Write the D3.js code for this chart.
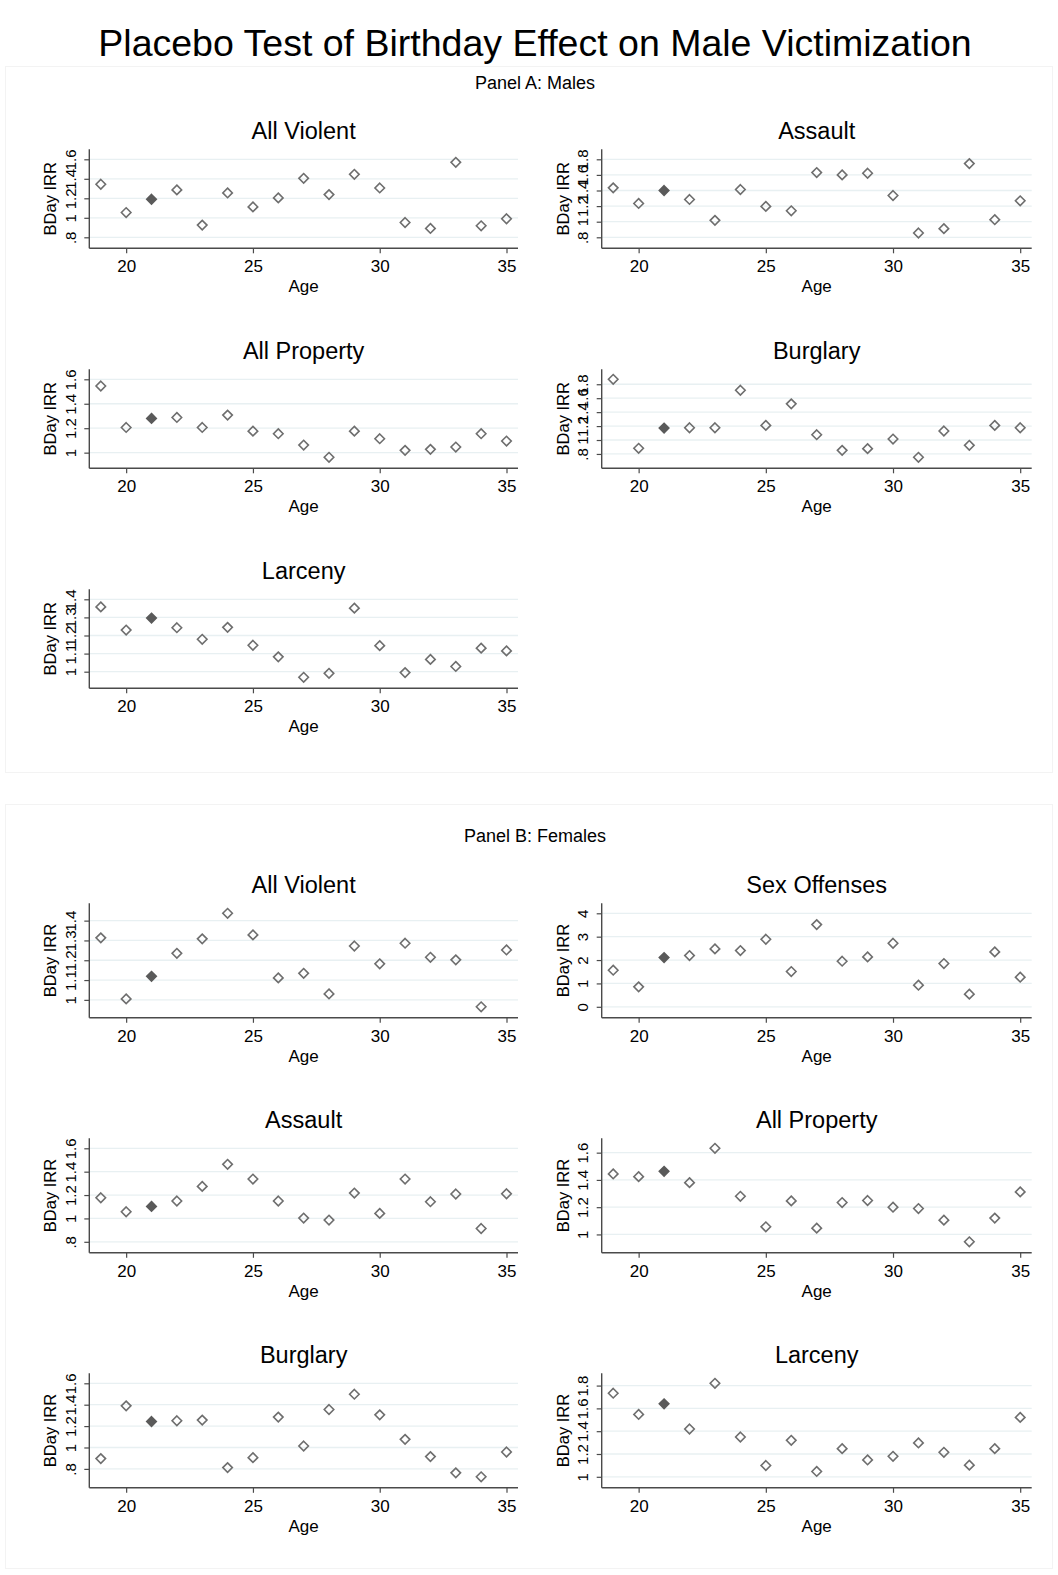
<!DOCTYPE html>
<html>
<head>
<meta charset="utf-8">
<script src="https://cdn.jsdelivr.net/npm/d3@7"></script>
<style>
  body { margin: 0; background: #fff; }
  text { font-family: "Liberation Sans", Arial, Helvetica, sans-serif; fill: #000; }
</style>
</head>
<body>
<svg id="chart"></svg>
<script>
// *** DATA ***
var ages = [19, 20, 21, 22, 23, 24, 25, 26, 27, 28, 29, 30, 31, 32, 33, 34, 35];
var highlightAge = 21;
var ageTicks = [20, 25, 30, 35];

// Panel A: males
var maleViolent  = [1.344, 1.054, 1.19, 1.286, 0.925, 1.255, 1.112, 1.204, 1.405, 1.238, 1.446, 1.306, 0.952, 0.891, 1.569, 0.918, 0.99];
var maleAssault  = [1.434, 1.234, 1.40, 1.285, 1.017, 1.413, 1.196, 1.140, 1.630, 1.600, 1.621, 1.336, 0.855, 0.911, 1.745, 1.026, 1.268];
var maleProperty = [1.545, 1.206, 1.28, 1.288, 1.206, 1.307, 1.176, 1.155, 1.062, 0.962, 1.176, 1.114, 1.019, 1.027, 1.046, 1.155, 1.095];
var maleBurglary = [1.871, 0.881, 1.171, 1.176, 1.176, 1.714, 1.210, 1.519, 1.076, 0.852, 0.876, 1.014, 0.752, 1.129, 0.924, 1.210, 1.176];
var maleLarceny  = [1.358, 1.230, 1.296, 1.243, 1.179, 1.245, 1.146, 1.082, 0.969, 0.991, 1.351, 1.144, 0.995, 1.068, 1.029, 1.130, 1.115];

// Panel B: females
var femaleViolent  = [1.313, 1.005, 1.119, 1.235, 1.308, 1.437, 1.328, 1.111, 1.134, 1.030, 1.272, 1.182, 1.286, 1.215, 1.202, 0.965, 1.252];
var femaleSex      = [1.566, 0.854, 2.107, 2.192, 2.477, 2.406, 2.890, 1.509, 3.516, 1.950, 2.135, 2.719, 0.925, 1.851, 0.541, 2.349, 1.267];
var femaleAssault  = [1.177, 1.057, 1.103, 1.149, 1.274, 1.463, 1.337, 1.149, 1.003, 0.986, 1.217, 1.043, 1.337, 1.143, 1.209, 0.914, 1.211];
var femaleProperty = [1.444, 1.424, 1.463, 1.380, 1.632, 1.280, 1.056, 1.246, 1.046, 1.234, 1.249, 1.200, 1.190, 1.105, 0.946, 1.120, 1.312];
var femaleBurglary = [0.896, 1.389, 1.243, 1.250, 1.256, 0.812, 0.905, 1.284, 1.014, 1.355, 1.498, 1.305, 1.076, 0.915, 0.763, 0.726, 0.958];
var femaleLarceny  = [1.733, 1.547, 1.640, 1.419, 1.820, 1.349, 1.099, 1.320, 1.047, 1.247, 1.148, 1.180, 1.297, 1.215, 1.102, 1.247, 1.521];

// y tick labels per panel
var ticksViolentM  = [0.8, 1, 1.2, 1.4, 1.6];
var ticksAssaultM  = [0.8, 1, 1.2, 1.4, 1.6, 1.8];
var ticksPropertyM = [1, 1.2, 1.4, 1.6];
var ticksBurglaryM = [0.8, 1, 1.2, 1.4, 1.6, 1.8];
var ticksLarcenyM  = [1, 1.1, 1.2, 1.3, 1.4];
var ticksViolentF  = [1, 1.1, 1.2, 1.3, 1.4];
var ticksSexF      = [0, 1, 2, 3, 4];
var ticksAssaultF  = [0.8, 1, 1.2, 1.4, 1.6];
var ticksPropertyF = [1, 1.2, 1.4, 1.6];
var ticksBurglaryF = [0.8, 1, 1.2, 1.4, 1.6];
var ticksLarcenyF  = [1, 1.2, 1.4, 1.6, 1.8];

// *** LAYOUT ***
var width = 1058;
var height = 1575;
var colLeft = [89.3, 601.7];
var colWidth = [428.7, 430];
var maleTops = [149.3, 369.3, 589.3];
var femaleTops = [903.3, 1138.3, 1373.3];
var maleH = 99;
var femaleH = 114.5;

var markerColor = "#6e6e6e";
var axisColor = "#4a4a4a";
var gridColor = "#e8f0f2";

var plots = [
  { title: "All Violent",  values: maleViolent,    ticks: ticksViolentM,  col: 0, top: maleTops[0], h: maleH },
  { title: "Assault",      values: maleAssault,    ticks: ticksAssaultM,  col: 1, top: maleTops[0], h: maleH },
  { title: "All Property", values: maleProperty,   ticks: ticksPropertyM, col: 0, top: maleTops[1], h: maleH },
  { title: "Burglary",     values: maleBurglary,   ticks: ticksBurglaryM, col: 1, top: maleTops[1], h: maleH },
  { title: "Larceny",      values: maleLarceny,    ticks: ticksLarcenyM,  col: 0, top: maleTops[2], h: maleH },
  { title: "All Violent",  values: femaleViolent,  ticks: ticksViolentF,  col: 0, top: femaleTops[0], h: femaleH },
  { title: "Sex Offenses", values: femaleSex,      ticks: ticksSexF,      col: 1, top: femaleTops[0], h: femaleH },
  { title: "Assault",      values: femaleAssault,  ticks: ticksAssaultF,  col: 0, top: femaleTops[1], h: femaleH },
  { title: "All Property", values: femaleProperty, ticks: ticksPropertyF, col: 1, top: femaleTops[1], h: femaleH },
  { title: "Burglary",     values: femaleBurglary, ticks: ticksBurglaryF, col: 0, top: femaleTops[2], h: femaleH },
  { title: "Larceny",      values: femaleLarceny,  ticks: ticksLarcenyF,  col: 1, top: femaleTops[2], h: femaleH }
];

// --- Helpers ---
function fmtTick(v) {
  // Stata style: drop leading zero (.8)
  var s = String(v);
  if (s.indexOf("0.") == 0) { s = s.substring(1); }
  return s;
}

var svg = d3.select("#chart")
  .attr("width", width)
  .attr("height", height);

// panel boxes (faint outlines)
svg.append("rect")
  .attr("x", 5.5).attr("y", 66.5).attr("width", 1047).attr("height", 706)
  .attr("fill", "none").attr("stroke", "#f3f3f3");
svg.append("rect")
  .attr("x", 5.5).attr("y", 804.5).attr("width", 1047).attr("height", 764)
  .attr("fill", "none").attr("stroke", "#f3f3f3");

// titles
svg.append("text")
  .attr("x", 535).attr("y", 56)
  .attr("text-anchor", "middle")
  .style("font-size", "37.5px")
  .text("Placebo Test of Birthday Effect on Male Victimization");
svg.append("text")
  .attr("x", 535).attr("y", 89)
  .attr("text-anchor", "middle")
  .style("font-size", "18px")
  .text("Panel A: Males");
svg.append("text")
  .attr("x", 535).attr("y", 842)
  .attr("text-anchor", "middle")
  .style("font-size", "18px")
  .text("Panel B: Females");

// --- Action ---
function drawPlot(p) {
  var left = colLeft[p.col];
  var right = left + colWidth[p.col];
  var top = p.top;
  var bottom = p.top + p.h;
  var g = svg.append("g").attr("class", "plot");

  var x = d3.scaleLinear()
    .domain(d3.extent(ages))
    .range([left + 11.5, right - 11.5]);
  var y = d3.scaleLinear()
    .domain(d3.extent(p.values.concat(p.ticks)))
    .range([bottom - 11, top + 10]);

  // gridlines
  g.selectAll("line.grid")
    .data(p.ticks)
    .enter()
      .append("line")
      .attr("class", "grid")
      .attr("x1", left).attr("x2", right)
      .attr("y1", function(d) { return y(d); })
      .attr("y2", function(d) { return y(d); })
      .attr("stroke", gridColor)
      .attr("stroke-width", 1.3);

  // x axis
  var xAxis = g.append("g")
    .attr("transform", "translate(0," + bottom + ")")
    .call(d3.axisBottom(x).tickValues(ageTicks).tickSize(5).tickFormat(d3.format("d")));
  xAxis.select(".domain").remove();
  xAxis.selectAll("line").attr("stroke", axisColor).attr("stroke-width", 1.2);
  xAxis.selectAll("text")
    .attr("y", 24).attr("dy", null)
    .attr("fill", "#000")
    .style("font-size", "17px")
    .style("font-family", "'Liberation Sans', Arial, sans-serif");
  g.append("line")
    .attr("x1", left).attr("x2", right)
    .attr("y1", bottom).attr("y2", bottom)
    .attr("stroke", axisColor).attr("stroke-width", 1.4);

  // y axis
  var yAxis = g.append("g")
    .attr("transform", "translate(" + left + ",0)")
    .call(d3.axisLeft(y).tickValues(p.ticks).tickSize(5).tickFormat(fmtTick));
  yAxis.select(".domain").remove();
  yAxis.selectAll("line").attr("stroke", axisColor).attr("stroke-width", 1.2);
  yAxis.selectAll("text")
    .attr("x", null).attr("dy", null)
    .attr("text-anchor", "middle")
    .attr("transform", "translate(-13.5,0) rotate(-90)")
    .attr("fill", "#000")
    .style("font-size", "15px")
    .style("font-family", "'Liberation Sans', Arial, sans-serif");
  g.append("line")
    .attr("x1", left).attr("x2", left)
    .attr("y1", top).attr("y2", bottom)
    .attr("stroke", axisColor).attr("stroke-width", 1.4);

  // axis titles
  g.append("text")
    .attr("x", (left + right) / 2).attr("y", bottom + 44)
    .attr("text-anchor", "middle")
    .style("font-size", "17px")
    .text("Age");
  g.append("text")
    .attr("text-anchor", "middle")
    .attr("transform", "translate(" + (left - 33) + "," + ((top + bottom) / 2) + ") rotate(-90)")
    .style("font-size", "16.5px")
    .text("BDay IRR");

  // subplot title
  g.append("text")
    .attr("x", (left + right) / 2).attr("y", top - 10)
    .attr("text-anchor", "middle")
    .style("font-size", "23.5px")
    .text(p.title);

  // markers
  var diamond = d3.symbol().type(d3.symbolDiamond2).size(58);
  g.selectAll("path.pt")
    .data(ages.map(function(a, i) { return { age: a, value: p.values[i] }; }))
    .enter()
      .append("path")
      .attr("class", "pt")
      .attr("d", diamond)
      .attr("transform", function(d) {
        return "translate(" + x(d.age) + "," + y(d.value) + ")";
      })
      .attr("fill", function(d) { return d.age == highlightAge ? "#5a5a5a" : "none"; })
      .attr("stroke", function(d) { return d.age == highlightAge ? "#5a5a5a" : markerColor; })
      .attr("stroke-width", 1.6);
}

plots.forEach(drawPlot);
</script>
</body>
</html>
